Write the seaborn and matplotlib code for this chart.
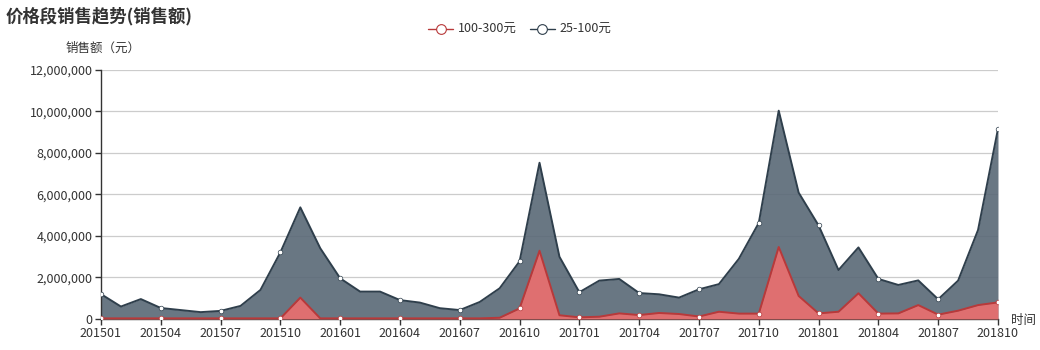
import matplotlib
matplotlib.use("Agg")
import matplotlib.pyplot as plt
import seaborn as sns
import pandas as pd
import numpy as np
from matplotlib.ticker import FuncFormatter, FixedLocator
from matplotlib.lines import Line2D

months = [f"{y}{m:02d}" for y in (2015, 2016, 2017, 2018) for m in range(1, 13)][:46]

# 25-100元 sales (yuan)
low_band = [1.20e6, 0.60e6, 0.96e6, 0.53e6, 0.43e6, 0.33e6, 0.39e6, 0.63e6, 1.40e6, 3.21e6,
            5.38e6, 3.41e6, 1.96e6, 1.32e6, 1.32e6, 0.91e6, 0.79e6, 0.52e6, 0.43e6, 0.82e6,
            1.48e6, 2.78e6, 7.53e6, 3.00e6, 1.29e6, 1.85e6, 1.93e6, 1.25e6, 1.19e6, 1.03e6,
            1.43e6, 1.68e6, 2.90e6, 4.63e6, 10.04e6, 6.09e6, 4.51e6, 2.36e6, 3.45e6, 1.93e6,
            1.64e6, 1.86e6, 0.95e6, 1.85e6, 4.29e6, 9.16e6]
# 100-300元 sales (yuan)
high_band = [0.03e6, 0.03e6, 0.03e6, 0.03e6, 0.03e6, 0.03e6, 0.03e6, 0.03e6, 0.03e6, 0.03e6,
             1.03e6, 0.03e6, 0.03e6, 0.03e6, 0.03e6, 0.03e6, 0.03e6, 0.03e6, 0.03e6, 0.03e6,
             0.06e6, 0.51e6, 3.29e6, 0.18e6, 0.08e6, 0.11e6, 0.27e6, 0.19e6, 0.29e6, 0.24e6,
             0.12e6, 0.35e6, 0.26e6, 0.26e6, 3.47e6, 1.11e6, 0.27e6, 0.35e6, 1.24e6, 0.26e6,
             0.27e6, 0.67e6, 0.21e6, 0.40e6, 0.67e6, 0.80e6]

series_names = ["100-300元", "25-100元"]

sns.set_theme(style="white")
plt.rcParams['font.family'] = ['Noto Sans CJK SC', 'DejaVu Sans']

df = pd.DataFrame({"idx": range(len(months)), "month": months,
                   "100-300元": high_band, "25-100元": low_band})

fig = plt.figure(figsize=(10.4, 3.5), dpi=100)
ax = fig.add_axes([0.0971, 0.0886, 0.8625, 0.7114])

gray_line = "#2f3f4c"
gray_fill = "#596876"
red_line = "#b8393a"
red_fill = "#ed6f6e"

# gray area
ax.fill_between(df["idx"], df["25-100元"], 0, color=gray_fill, alpha=0.9, zorder=2, linewidth=0)
sns.lineplot(data=df, x="idx", y="25-100元", ax=ax, color=gray_line, linewidth=1.4, zorder=3)
# red area
ax.fill_between(df["idx"], df["100-300元"], 0, color=red_fill, alpha=0.9, zorder=4, linewidth=0)
sns.lineplot(data=df, x="idx", y="100-300元", ax=ax, color=red_line, linewidth=1.4, zorder=5)

mk = df[df["idx"] % 3 == 0]
ax.scatter(mk["idx"], mk["25-100元"], s=11, facecolor="white", edgecolor=gray_line,
           linewidth=0.5, zorder=6)
ax.scatter(mk["idx"], mk["100-300元"], s=11, facecolor="white", edgecolor=red_line,
           linewidth=0.5, zorder=7)

ax.set_xlim(0, len(months) - 1)
ax.set_ylim(0, 12e6)
ax.yaxis.set_major_locator(FixedLocator(np.arange(0, 12e6 + 1, 2e6)))
ax.yaxis.set_major_formatter(FuncFormatter(lambda v, p: f"{int(v):,}"))
ax.set_xticks(df["idx"][::3])
ax.set_xticklabels(df["month"][::3])
ax.grid(axis="y", color="#cccccc", linewidth=0.9, zorder=0)
ax.set_axisbelow(True)
ax.set_xlabel("")
ax.set_ylabel("")
for s in ["top", "right"]:
    ax.spines[s].set_visible(False)
ax.spines["left"].set_color("#333333")
ax.spines["bottom"].set_color("#333333")
ax.spines["left"].set_linewidth(1)
ax.spines["bottom"].set_linewidth(1)
ax.tick_params(axis="both", labelsize=9, colors="#333333", length=4, width=1, pad=2,
               direction="out", bottom=True, left=True)

fig.text(0.005, 0.955, "价格段销售趋势(销售额)", fontsize=12.5, fontweight="bold",
         color="#333333", ha="left", va="center")
fig.text(0.063, 0.862, "销售额（元）", fontsize=9, color="#333333", ha="left", va="center")
fig.text(0.972, 0.085, "时间", fontsize=9, color="#333333", ha="left", va="center")

handles = [Line2D([0], [0], color=red_line, linewidth=1, marker="o", markersize=7,
                  markerfacecolor="white", markeredgecolor=red_line, markeredgewidth=0.8),
           Line2D([0], [0], color=gray_line, linewidth=1, marker="o", markersize=7,
                  markerfacecolor="white", markeredgecolor=gray_line, markeredgewidth=0.8)]
fig.legend(handles, series_names, loc="center", bbox_to_anchor=(0.5, 0.915), ncol=2,
           frameon=False, fontsize=9, handlelength=2.0, columnspacing=1.0,
           handletextpad=0.4, labelcolor="#333333")

fig.savefig("out.png", dpi=100)
